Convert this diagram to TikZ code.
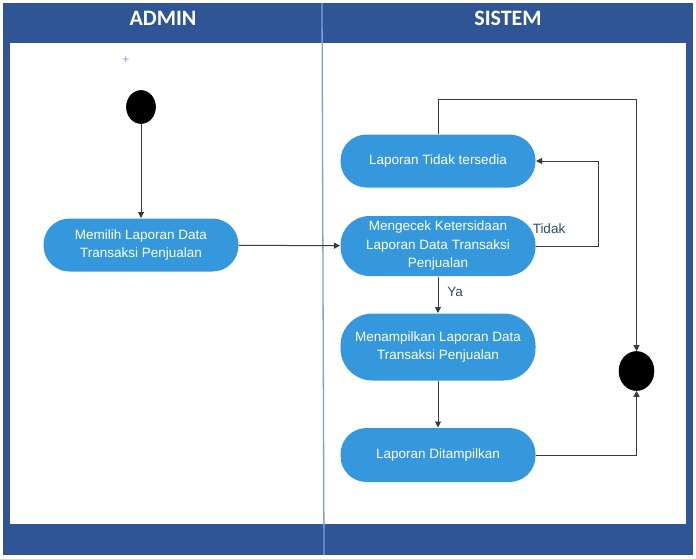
\documentclass[tikz,border=0pt]{standalone}
\usepackage{fontspec}
\setmainfont{Liberation Sans}
\newfontfamily\headfont{Carlito}
\usetikzlibrary{arrows.meta,positioning,shapes}
\definecolor{laneblue}{HTML}{2F5597}
\definecolor{actblue}{HTML}{3597DC}
\definecolor{divblue}{HTML}{7F9FD8}
\definecolor{flowgray}{HTML}{3A3A3A}
\definecolor{guardblue}{HTML}{2E4A6B}
\begin{document}
\begin{tikzpicture}[x=1pt,y=-1pt,>={Triangle[length=6pt,width=6pt]},line width=1pt,
  action/.style={rectangle,rounded corners=26pt,fill=actblue,text=white,minimum width=195pt,inner sep=0pt,align=center,font=\fontsize{13.5}{18.5}\selectfont},
  state node/.style={ellipse,fill=black,draw=black,line width=.6pt,inner sep=0pt},
  lane head/.style={text=white,font=\headfont\bfseries\fontsize{22}{24}\selectfont},
  guard/.style={text=guardblue,font=\fontsize{13.5}{16}\selectfont}]
\useasboundingbox (0,0) rectangle (696,558);
% swimlanes
\fill[laneblue] (3,3) rectangle (693,555);
\fill[white] (10,43) rectangle (686,524);
\draw[divblue,line width=1.3pt] (322,3) -- (324,555);
\node[lane head] (admin) at (163,18) {ADMIN};
\node[lane head] (sistem) at (508,18) {SISTEM};
% nodes
\node[text=divblue,font=\fontsize{12}{12}\selectfont] (plus) at (126,60) {+};
\node[state node,minimum width=29pt,minimum height=33pt] (start) at (141,107) {};
\node[action,minimum height=53pt] (pilih) at (141,245) {Memilih Laporan Data\\Transaksi Penjualan};
\node[action,minimum height=53pt] (kosong) at (438,161) {Laporan Tidak tersedia};
\node[action,minimum height=60pt,rounded corners=29pt] (cek) at (438,246) {Mengecek Ketersidaan\\Laporan Data Transaksi\\Penjualan};
\node[action,minimum height=67pt,rounded corners=32pt] (tampil) at (438,347) {Menampilkan Laporan Data\\Transaksi Penjualan};
\node[action,minimum height=54pt] (hasil) at (438,455) {Laporan Ditampilkan};
\node[state node,minimum width=35pt,minimum height=39pt] (end) at (636.5,371) {};
\coordinate (tidakturn) at (598,161);
\coordinate (loopturn) at (636.5,99);
% connectors
\begin{scope}[draw=flowgray]
\draw[->] (start) -- (pilih);
\draw[->] (pilih) -- (cek);
\draw[->] (cek.east) -| (tidakturn) -- (kosong.east);
\draw[->] (kosong.north) |- (loopturn) -- (end.north);
\draw[->] (cek) -- (tampil);
\draw[->] (tampil) -- (hasil);
\draw[->] (hasil.east) -| (end.south);
\end{scope}
\node[guard] (tidak) at (549,229) {Tidak};
\node[guard] (ya) at (455,292) {Ya};
\end{tikzpicture}
\end{document}
